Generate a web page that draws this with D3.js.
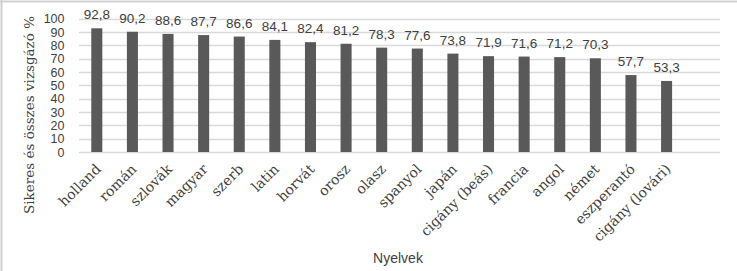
<!DOCTYPE html>
<html><head><meta charset="utf-8">
<script src="https://cdn.jsdelivr.net/npm/d3@7"></script>
<style>body{margin:0;background:#fff;} svg{display:block;}</style>
</head><body>
<svg id="c" width="737" height="271"></svg>
<script>
const categories = ["holland","román","szlovák","magyar","szerb","latin","horvát","orosz","olasz","spanyol","japán","cigány (beás)","francia","angol","német","eszperantó","cigány (lovári)"];
const values = [92.8,90.2,88.6,87.7,86.6,84.1,82.4,81.2,78.3,77.6,73.8,71.9,71.6,71.2,70.3,57.7,53.3];
const yTicks = [0,10,20,30,40,50,60,70,80,90,100];
const yTitle = "Sikeres és összes vizsgázó %";
const xTitle = "Nyelvek";

const svg = d3.select("#c");
const pL = 79, pR = 720, pT = 18.7, pB = 152;
const step = (pR - pL) / 18;
const x = d3.scaleBand().domain(categories).range([pL, pL + step * categories.length]).paddingInner(0.69).paddingOuter(0.345);
const y = d3.scaleLinear().domain([0,100]).range([pB, pT]);

// frame
svg.append("line").attr("x1",0).attr("x2",737).attr("y1",1.5).attr("y2",1.5).attr("stroke","#d0d0d0").attr("stroke-width",2);
svg.append("line").attr("x1",1.5).attr("x2",1.5).attr("y1",0).attr("y2",271).attr("stroke","#d0d0d0").attr("stroke-width",2);

// gridlines
svg.append("g").selectAll("line").data(yTicks).join("line")
  .attr("x1",pL).attr("x2",pR)
  .attr("y1",d=>Math.round(y(d))+0.5).attr("y2",d=>Math.round(y(d))+0.5)
  .attr("stroke","#d9d9d9").attr("stroke-width",1.3);

// y tick labels
const ya = svg.append("g").attr("transform",`translate(${pL-14.5},0)`)
  .call(d3.axisLeft(y).tickValues(yTicks).tickSize(0).tickPadding(0));
ya.select(".domain").remove();
ya.selectAll("text").attr("font-family","Liberation Sans, Arial, sans-serif").attr("font-size",12.5).attr("fill","#404040");

// bars
svg.append("g").selectAll("rect").data(values).join("rect")
  .attr("x",(d,i)=>x(categories[i])).attr("width",x.bandwidth())
  .attr("y",d=>y(d)).attr("height",d=>y(0)-y(d)).attr("fill","#595959");

// data labels
svg.append("g").selectAll("text").data(values).join("text")
  .attr("x",(d,i)=>x(categories[i])+x.bandwidth()/2).attr("y",d=>y(d)-9)
  .attr("text-anchor","middle").attr("font-family","Liberation Sans, Arial, sans-serif").attr("font-size",13.5).attr("fill","#404040")
  .text(d=>d.toFixed(1).replace(".",","));

// x labels
const xa = svg.append("g").attr("transform",`translate(0,${pB})`)
  .call(d3.axisBottom(x).tickSize(0).tickPadding(0));
xa.select(".domain").remove();
xa.selectAll("text")
  .attr("font-family","DejaVu Serif, serif").attr("font-size",14).attr("fill","#404040")
  .attr("text-anchor","end").attr("dy",0)
  .attr("transform","translate(5,18) rotate(-45)");

// titles
svg.append("text").attr("transform","translate(34,115) rotate(-90)")
  .attr("text-anchor","middle").attr("font-family","DejaVu Serif, serif").attr("font-size",13.5).attr("fill","#404040")
  .text(yTitle);
svg.append("text").attr("x",398).attr("y",263).attr("text-anchor","middle")
  .attr("font-family","Liberation Sans, Arial, sans-serif").attr("font-size",14).attr("fill","#404040").text(xTitle);
</script>
</body></html>
